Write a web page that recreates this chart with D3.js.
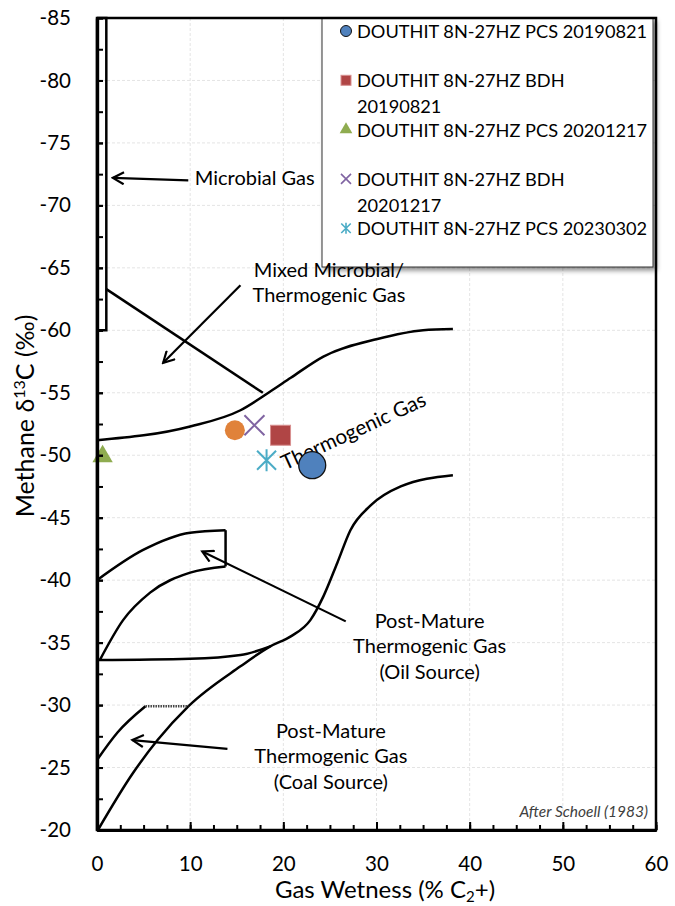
<!DOCTYPE html>
<html>
<head>
<meta charset="utf-8">
<script src="https://cdn.jsdelivr.net/npm/d3@7"></script>
<style>
  body { margin: 0; background: #fff; }
  svg text { font-family: Lato, "Noto Sans", sans-serif; fill: #000; }
</style>
</head>
<body>
<div class="forSvg"></div>
<script>
// svg size and plot box
const svg_w = 675;
const svg_h = 906;
const plotL = 97, plotR = 656, plotT = 18, plotB = 830;

// tick values
const xTicks = [0, 10, 20, 30, 40, 50, 60];
const yTicks = [-85, -80, -75, -70, -65, -60, -55, -50, -45, -40, -35, -30, -25, -20];

// samples (gas wetness %, methane d13C)
const sampleNames = [
  "DOUTHIT 8N-27HZ PCS 20190821",
  "DOUTHIT 8N-27HZ BDH 20190821",
  "DOUTHIT 8N-27HZ PCS 20201217",
  "DOUTHIT 8N-27HZ BDH 20201217",
  "DOUTHIT 8N-27HZ PCS 20230302",
  "extra"
];
const sampleWetness = [23.1, 19.7, 0.6, 16.9, 18.2, 14.8];
const sampleMethane = [-49.2, -51.6, -49.9, -52.4, -49.6, -52.0];

// Schoell (1983) field boundaries, [wetness, d13C]
const microbialBox = [[0, -85], [1, -85], [1, -60], [0, -60]];
const mixedLine = [[1, -63.3], [17.8, -55.0]];
const thermoUpper = [[0, -51.2], [10, -52.3], [15.4, -53.6], [18.6, -55.1], [20.8, -56.2], [24.3, -57.9], [30.1, -59.3], [35, -60.0], [38.2, -60.1]];
const thermoLower = [[0.1, -20], [3.9, -24.6], [6.5, -27.2], [9.8, -29.9], [15.4, -33.1], [18.6, -34.7], [20.8, -35.5], [22.9, -36.8], [24.3, -38.7], [25.8, -41.4], [27.2, -44.0], [29.4, -46.0], [32.6, -47.5], [38.2, -48.4]];
const oilBase = [[0, -33.6], [10, -33.7], [15.4, -34.0], [18.6, -34.7]];
const oilBoxLower = [[0.3, -33.6], [2.8, -36.8], [5.7, -39.0], [10, -40.6], [13.8, -41.1]];
const oilBoxUpper = [[0, -40], [4.9, -42.4], [10, -43.8], [13.8, -44.0]];
const oilBoxSide = [[13.8, -44.0], [13.8, -41.1]];
const coalBoxUpper = [[0, -25.6], [2.2, -27.8], [5.2, -29.9]];
const coalBoxTop = [[5.2, -29.9], [9.8, -29.9]];

// arrows [from, to]
const arrows = [
  [[9.8, -72.0], [1.7, -72.2]],
  [[15.4, -63.6], [7.1, -57.4]],
  [[26.7, -36.7], [11.3, -42.3]],
  [[14.0, -26.5], [3.8, -27.2]]
];

const xScale = d3.scaleLinear().domain([0, 60]).range([plotL, plotR]);
const yScale = d3.scaleLinear().domain([-85, -20]).range([plotT, plotB]);

const svg = d3.select(".forSvg").append("svg")
  .attr("width", svg_w)
  .attr("height", svg_h);

const defs = svg.append("defs");
defs.append("filter").attr("id", "shadow")
  .attr("x", "-10%").attr("y", "-10%").attr("width", "130%").attr("height", "130%")
  .append("feDropShadow")
  .attr("dx", 3).attr("dy", 3).attr("stdDeviation", 2.5)
  .attr("flood-color", "#000").attr("flood-opacity", 0.45);
defs.append("marker").attr("id", "head")
  .attr("viewBox", "-12 -7 14 14")
  .attr("refX", 0).attr("refY", 0)
  .attr("markerWidth", 14).attr("markerHeight", 14)
  .attr("markerUnits", "userSpaceOnUse")
  .attr("orient", "auto")
  .append("path")
  .attr("d", "M-11,-6L0,0L-11,6")
  .attr("fill", "none").attr("stroke", "#000").attr("stroke-width", 2.2);

// grid
const grid = svg.append("g").attr("stroke", "#e4e4e4").attr("stroke-dasharray", "3,2");
grid.selectAll(".gx").data(xTicks.slice(1, -1)).enter().append("line")
  .attr("x1", d => xScale(d)).attr("x2", d => xScale(d))
  .attr("y1", plotT).attr("y2", plotB);
grid.selectAll(".gy").data(yTicks.slice(1, -1)).enter().append("line")
  .attr("x1", plotL).attr("x2", plotR)
  .attr("y1", d => yScale(d)).attr("y2", d => yScale(d));

// legend
const legW = 331, legH = 249, legX = 322, legY = plotT;
svg.append("rect")
  .attr("x", legX).attr("y", legY).attr("width", legW).attr("height", legH)
  .attr("fill", "#fff").attr("stroke", "#333").attr("stroke-width", 1)
  .attr("filter", "url(#shadow)");

const legendLines = [
  ["DOUTHIT 8N-27HZ PCS 20190821"],
  ["DOUTHIT 8N-27HZ BDH", "20190821"],
  ["DOUTHIT 8N-27HZ PCS 20201217"],
  ["DOUTHIT 8N-27HZ BDH", "20201217"],
  ["DOUTHIT 8N-27HZ PCS 20230302"]
];

function xPath(s) { return `M${-s},${-s}L${s},${s}M${-s},${s}L${s},${-s}`; }
function starPath(s) { return xPath(s) + `M0,${-s * 1.15}L0,${s * 1.15}`; }

function drawMarker(g, i, big) {
  const k = big ? 1 : 0.5;
  if (i === 0) g.append("circle").attr("r", big ? 13.5 : 5.5).attr("fill", "#4f81bd").attr("stroke", "#111").attr("stroke-width", big ? 1.3 : 1);
  if (i === 1) g.append("rect").attr("x", -10 * k).attr("y", -10 * k).attr("width", 20 * k).attr("height", 20 * k)
    .attr("fill", "#b04545").attr("stroke", "#d89090").attr("stroke-width", 1);
  if (i === 2) g.append("path").attr("d", d3.symbol(d3.symbolTriangle, big ? 180 : 70)()).attr("fill", "#8fac50");
  if (i === 3) g.append("path").attr("d", xPath(10 * k)).attr("stroke", "#8064a2").attr("stroke-width", big ? 2 : 1.6).attr("fill", "none");
  if (i === 4) g.append("path").attr("d", starPath(9.5 * k)).attr("stroke", "#4bacc6").attr("stroke-width", big ? 2 : 1.6).attr("fill", "none");
  if (i === 5) g.append("circle").attr("r", 10).attr("fill", "#e0823a");
}

legendLines.forEach((lines, i) => {
  const cy = 31 + 49.3 * i;
  drawMarker(svg.append("g").attr("transform", `translate(${legX + 24},${cy})`), i, false);
  lines.forEach((t, j) => {
    svg.append("text")
      .attr("x", legX + 35).attr("y", cy + 7 + j * 26)
      .style("font-size", "18.2px")
      .text(t);
  });
});

// boundaries
const line = d3.line().x(d => xScale(d[0])).y(d => yScale(d[1]));
const curve = d3.line().x(d => xScale(d[0])).y(d => yScale(d[1])).curve(d3.curveMonotoneX);
const bounds = svg.append("g").attr("fill", "none").attr("stroke", "#000").attr("stroke-width", 2.5);
bounds.append("path").attr("d", line(microbialBox));
bounds.append("path").attr("d", line(mixedLine));
bounds.append("path").attr("d", curve(thermoUpper));
bounds.append("path").attr("d", curve(thermoLower));
bounds.append("path").attr("d", curve(oilBase));
bounds.append("path").attr("d", curve(oilBoxLower));
bounds.append("path").attr("d", curve(oilBoxUpper));
bounds.append("path").attr("d", line(oilBoxSide));
bounds.append("path").attr("d", curve(coalBoxUpper));
bounds.append("path").attr("d", line(coalBoxTop)).attr("stroke", "#444").attr("stroke-dasharray", "1.5,1");

// arrows
svg.append("g").selectAll("path").data(arrows).enter().append("path")
  .attr("d", d => line(d))
  .attr("fill", "none").attr("stroke", "#000").attr("stroke-width", 2.2)
  .attr("marker-end", "url(#head)");

// labels
const labels = [
  { t: ["Microbial Gas"], x: 10.5, y: -71.6, a: "start" },
  { t: ["Mixed Microbial/", "Thermogenic Gas"], x: 24.9, y: -64.3, a: "middle" },
  { t: ["Post-Mature", "Thermogenic Gas", "(Oil Source)"], x: 35.7, y: -36.2, a: "middle" },
  { t: ["Post-Mature", "Thermogenic Gas", "(Coal Source)"], x: 25.1, y: -27.4, a: "middle" }
];
labels.forEach(l => {
  const tx = svg.append("text")
    .attr("x", xScale(l.x)).attr("y", yScale(l.y))
    .attr("text-anchor", l.a)
    .style("font-size", "20px");
  l.t.forEach((s, j) => tx.append("tspan").attr("x", xScale(l.x)).attr("dy", j ? 25.5 : 0).text(s));
});
svg.append("text")
  .attr("transform", `translate(${xScale(20.2)},${yScale(-48.8)}) rotate(-24.7)`)
  .style("font-size", "20.5px")
  .text("Thermogenic Gas");

svg.append("text")
  .attr("x", 648).attr("y", 817)
  .attr("text-anchor", "end")
  .style("font-size", "15.5px").style("font-style", "italic").style("fill", "#404040")
  .text("After Schoell (1983)");

// samples, drawn back to front
const order = [5, 2, 3, 1, 4, 0];
order.forEach(i => {
  drawMarker(svg.append("g")
    .attr("transform", `translate(${xScale(sampleWetness[i])},${yScale(sampleMethane[i])})`), i, true);
});

// plot border
svg.append("rect")
  .attr("x", plotL).attr("y", plotT).attr("width", plotR - plotL).attr("height", plotB - plotT)
  .attr("fill", "none").attr("stroke", "#000").attr("stroke-width", 2.5);

// axes
const fmt = d => String(d);
const yAxis = d3.axisLeft(yScale).tickValues(yTicks).tickSize(-6).tickSizeOuter(0).tickPadding(26).tickFormat(fmt);
const yMinor = d3.axisLeft(yScale).tickValues(d3.range(-85, -19, 2.5)).tickSize(-6).tickSizeOuter(0).tickFormat("");
const xAxis = d3.axisBottom(xScale).tickValues(xTicks).tickSize(-8).tickSizeOuter(0).tickPadding(26).tickFormat(fmt);
const xMinor = d3.axisBottom(xScale).tickValues(d3.range(0, 60.1, 2.5)).tickSize(-5).tickSizeOuter(0).tickFormat("");

[yMinor, yAxis].forEach(ax => {
  svg.append("g").attr("transform", `translate(${plotL},0)`).call(ax);
});
[xMinor, xAxis].forEach(ax => {
  svg.append("g").attr("transform", `translate(0,${plotB})`).call(ax);
});
svg.selectAll(".domain").attr("stroke-width", 3.2);
svg.selectAll(".tick line").attr("stroke-width", 2);
svg.selectAll(".tick text").style("font-size", "20.5px").style("font-family", "Lato, sans-serif");

// axis titles
const xt = svg.append("text")
  .attr("x", 385).attr("y", 898)
  .attr("text-anchor", "middle")
  .style("font-size", "24px");
xt.append("tspan").text("Gas Wetness (% C");
xt.append("tspan").attr("dy", 4).style("font-size", "15px").text("2");
xt.append("tspan").attr("dy", -4).text("+)");

const yt = svg.append("text")
  .attr("transform", `translate(34,416) rotate(-90)`)
  .attr("text-anchor", "middle")
  .style("font-size", "25px");
yt.append("tspan").text("Methane  δ");
yt.append("tspan").attr("dy", -9).style("font-size", "16px").text("13");
yt.append("tspan").attr("dy", 9).text("C (‰)");
</script>
</body>
</html>
